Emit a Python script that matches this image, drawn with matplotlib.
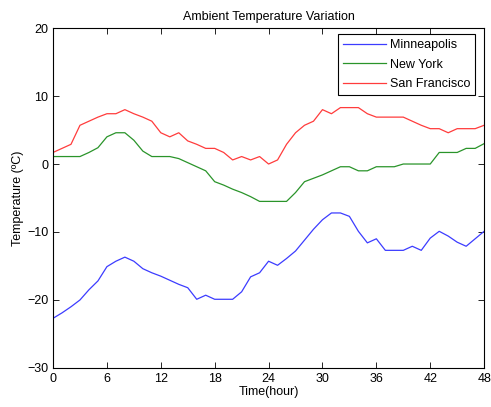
import matplotlib
matplotlib.use("Agg")
import matplotlib.pyplot as plt

plt.rcParams['font.family'] = ['Liberation Sans', 'DejaVu Sans']

hours = list(range(49))

minneapolis = [-22.7, -21.9, -21.0, -20.0, -18.5, -17.2, -15.1, -14.3, -13.7, -14.3,
               -15.4, -16.0, -16.5, -17.1, -17.7, -18.2, -19.9, -19.3, -19.9, -19.9,
               -19.9, -18.8, -16.6, -16.0, -14.3, -14.9, -13.9, -12.8, -11.2, -9.6,
               -8.2, -7.2, -7.2, -7.7, -9.9, -11.6, -11.0, -12.7, -12.7, -12.7,
               -12.1, -12.7, -10.9, -9.9, -10.6, -11.5, -12.1, -11.0, -9.9]
new_york = [1.1, 1.1, 1.1, 1.1, 1.7, 2.4, 4.0, 4.6, 4.6, 3.5,
            1.9, 1.1, 1.1, 1.1, 0.8, 0.2, -0.4, -1.0, -2.6, -3.1,
            -3.7, -4.2, -4.8, -5.5, -5.5, -5.5, -5.5, -4.2, -2.6, -2.1,
            -1.6, -1.0, -0.4, -0.4, -1.0, -1.0, -0.4, -0.4, -0.4, 0.0,
            0.0, 0.0, 0.0, 1.7, 1.7, 1.7, 2.3, 2.3, 3.0]
san_francisco = [1.7, 2.3, 2.9, 5.7, 6.3, 6.9, 7.4, 7.4, 8.0, 7.4,
                 6.9, 6.3, 4.6, 4.0, 4.6, 3.4, 2.9, 2.3, 2.3, 1.7,
                 0.6, 1.1, 0.6, 1.1, 0.0, 0.6, 2.9, 4.6, 5.7, 6.3,
                 8.0, 7.4, 8.3, 8.3, 8.3, 7.4, 6.9, 6.9, 6.9, 6.9,
                 6.3, 5.7, 5.2, 5.2, 4.6, 5.2, 5.2, 5.2, 5.7]

fig = plt.figure(figsize=(4.91, 4.07), dpi=100)
ax = fig.add_axes([0.108, 0.096, 0.878, 0.835])

ax.plot(hours, minneapolis, color='#3c3cff', lw=0.9, label='Minneapolis')
ax.plot(hours, new_york, color='#2a942a', lw=0.9, label='New York')
ax.plot(hours, san_francisco, color='#ff3c3c', lw=0.9, label='San Francisco')

ax.set_xlim(0, 48)
ax.set_ylim(-30, 20)
ax.set_xticks(range(0, 49, 6))
ax.set_yticks(range(-30, 21, 10))
ax.tick_params(direction='in', top=True, right=True, labelsize=9, length=4, width=0.6)
for s in ax.spines.values():
    s.set_linewidth(0.8)

ax.set_title('Ambient Temperature Variation', fontsize=9, pad=6)
ax.set_xlabel('Time(hour)', fontsize=9, labelpad=1)
ax.set_ylabel('Temperature (ºC)', fontsize=9, labelpad=2)

leg = ax.legend(loc='upper right', bbox_to_anchor=(0.979, 0.982), fontsize=9,
                fancybox=False, framealpha=1, edgecolor='black',
                handlelength=3.4, handletextpad=0.3, borderaxespad=0,
                labelspacing=0.6, borderpad=0.4)
leg.get_frame().set_linewidth(0.8)

fig.savefig('out.png', dpi=100)
